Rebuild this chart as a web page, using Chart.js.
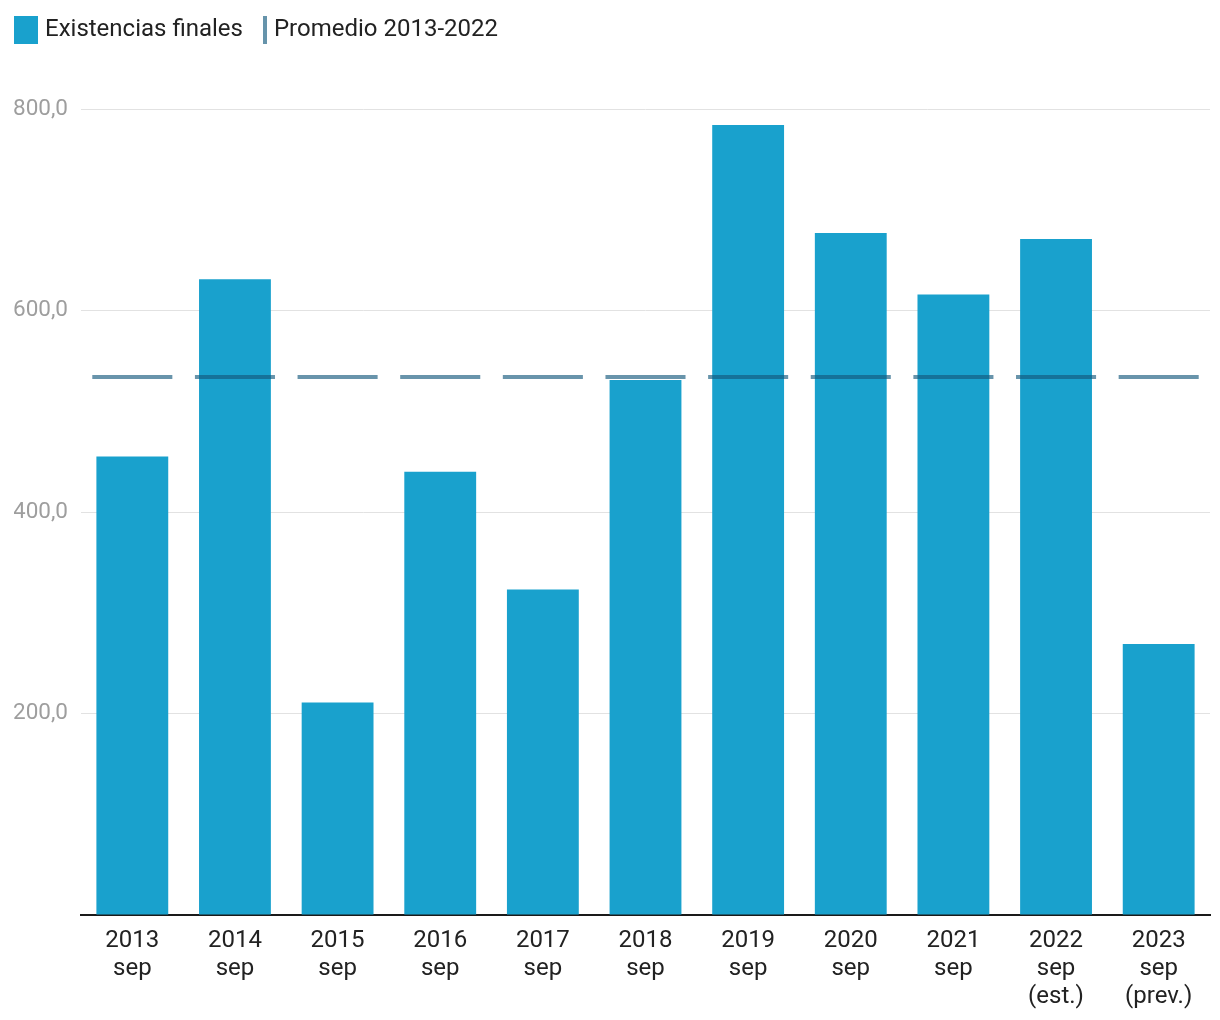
<!DOCTYPE html>
<html>
<head>
<meta charset="utf-8">
<script src="https://cdn.jsdelivr.net/npm/chart.js@4/dist/chart.umd.min.js"></script>
<style>
html,body{margin:0;padding:0;background:#fff;}
#wrap{width:1220px;height:1020px;}
</style>
</head>
<body>
<div id="wrap"><canvas id="c" width="1220" height="1020"></canvas></div>
<script>
const categories = [
  ['2013','sep'], ['2014','sep'], ['2015','sep'], ['2016','sep'], ['2017','sep'],
  ['2018','sep'], ['2019','sep'], ['2020','sep'], ['2021','sep'],
  ['2022','sep','(est.)'], ['2023','sep','(prev.)']
];
const existencias = [455, 631, 211, 440, 323, 531, 784, 677, 616, 671, 269];
const promedio = [533.9, 533.9, 533.9, 533.9, 533.9, 533.9, 533.9, 533.9, 533.9, 533.9, 533.9];
const yTicks = [200, 400, 600, 800];
const seriesNames = ['Existencias finales', 'Promedio 2013-2022'];

const barColor = '#19a1cd';
const lineColor = 'rgba(18,88,124,0.64)';
const lineLegendColor = '#6694ab';

function makeSquareIcon(){
  const c = document.createElement('canvas');
  c.width = 34; c.height = 28;
  const x = c.getContext('2d');
  x.fillStyle = barColor;
  x.fillRect(0, 0, 28, 28);
  return c;
}
function makeLineIcon(){
  const c = document.createElement('canvas');
  c.width = 22; c.height = 28;
  const x = c.getContext('2d');
  x.fillStyle = lineLegendColor;
  x.fillRect(18, 0, 4, 28);
  return c;
}
const icons = [makeSquareIcon(), makeLineIcon()];

const legendSpacer = {
  id: 'legendSpacer',
  afterInit(chart){
    const lg = chart.legend;
    if (!lg) return;
    const orig = lg.fit;
    lg.fit = function(){
      orig.call(this);
      this.height += 57;
    };
  }
};

const thick = 2;
new Chart(document.getElementById('c'), {
  type: 'bar',
  data: {
    labels: categories,
    datasets: [
      {
        label: seriesNames[0],
        data: existencias,
        backgroundColor: barColor,
        categoryPercentage: 1,
        barPercentage: 0.70,
        grouped: false,
        order: 2
      },
      {
        label: seriesNames[1],
        data: promedio.map(v => [v - thick, v + thick]),
        backgroundColor: lineColor,
        categoryPercentage: 1,
        barPercentage: 0.78,
        grouped: false,
        order: 1
      }
    ]
  },
  options: {
    responsive: false,
    animation: false,
    devicePixelRatio: 1,
    layout: { padding: { left: 14, right: 10, top: 11, bottom: 10 } },
    plugins: {
      tooltip: { enabled: false },
      legend: {
        position: 'top',
        align: 'start',
        labels: {
          usePointStyle: true,
          pointStyleWidth: 12,
          padding: 7,
          color: '#222',
          font: { family: 'Roboto', size: 24 },
          generateLabels(chart){
            return chart.data.datasets.map((d, i) => ({
              text: d.label,
              datasetIndex: i,
              pointStyle: icons[i],
              fillStyle: 'transparent',
              strokeStyle: 'transparent',
              lineWidth: 0,
              hidden: false,
              fontColor: '#222'
            }));
          }
        },
        onClick: null
      }
    },
    scales: {
      x: {
        grid: { display: true, color: 'transparent', drawTicks: false },
        border: { display: true, color: '#1a1a1a', width: 2 },
        afterFit(axis){ axis.height = 95; },
        ticks: {
          color: '#222',
          font: { family: 'Roboto', size: 24, lineHeight: 1.17 },
          padding: 12,
          maxRotation: 0,
          autoSkip: false
        }
      },
      y: {
        min: 0,
        max: 800,
        afterBuildTicks(axis){
          axis.ticks = [0].concat(yTicks).map(v => ({ value: v }));
        },
        afterFit(axis){ axis.width = 67; },
        grid: { color: '#e2e2e2', lineWidth: 1, drawTicks: false },
        border: { display: false },
        ticks: {
          color: '#9e9e9e',
          font: { family: 'Roboto', size: 22.5 },
          padding: 13,
          callback(v){ return v === 0 ? '' : v.toFixed(1).replace('.', ','); }
        }
      }
    }
  },
  plugins: [legendSpacer]
});
</script>
</body>
</html>
